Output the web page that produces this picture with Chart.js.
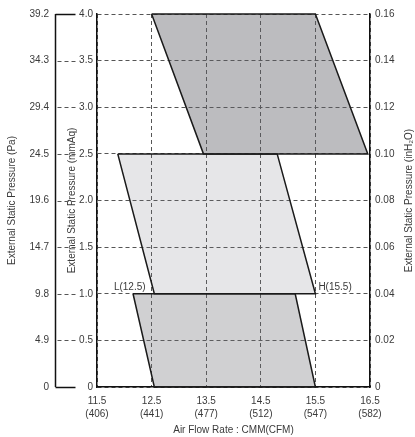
<!DOCTYPE html>
<html>
<head>
<meta charset="utf-8">
<script src="https://cdn.jsdelivr.net/npm/chart.js@4"></script>
<style>
html, body { margin: 0; padding: 0; background: #fff; }
#wrap { width: 415px; height: 437px; }
</style>
</head>
<body>
<div id="wrap"><canvas id="c"></canvas></div>
<script>
// ---- data ----
const cmmTicks = [11.5, 12.5, 13.5, 14.5, 15.5, 16.5];
const cmmLabels = ['11.5', '12.5', '13.5', '14.5', '15.5', '16.5'];
const cfmLabels = ['(406)', '(441)', '(477)', '(512)', '(547)', '(582)'];
const mmAqTicks = [0, 0.5, 1.0, 1.5, 2.0, 2.5, 3.0, 3.5, 4.0];
const mmAqLabels = ['0', '0.5', '1.0', '1.5', '2.0', '2.5', '3.0', '3.5', '4.0'];
const paTicks = [0, 4.9, 9.8, 14.7, 19.6, 24.5, 29.4, 34.3, 39.2];
const paLabels = ['0', '4.9', '9.8', '14.7', '19.6', '24.5', '29.4', '34.3', '39.2'];
const inH2OTicks = [0, 0.02, 0.04, 0.06, 0.08, 0.10, 0.12, 0.14, 0.16];
const inH2OLabels = ['0', '0.02', '0.04', '0.06', '0.08', '0.10', '0.12', '0.14', '0.16'];

// operating zones (x = CMM, y = mmAq), corners in order
const highZoneX = [12.5, 15.5, 16.46, 13.45];
const highZoneY = [4.0, 4.0, 2.5, 2.5];
const midZoneX = [11.88, 14.8, 15.5, 12.55];
const midZoneY = [2.5, 2.5, 1.0, 1.0];
const lowZoneX = [12.16, 15.13, 15.5, 12.55];
const lowZoneY = [1.0, 1.0, 0, 0];

const pointLabels = ['L(12.5)', 'H(15.5)'];
const pointLabelX = [12.5, 15.5];
const pointLabelY = [1.0, 1.0];

const titlePa = 'External Static Pressure (Pa)';
const titleMmAq = 'External Static Pressure (mmAq)';
const titleInH2O = 'External Static Pressure (inH\u2082O)';
const titleX = 'Air Flow Rate : CMM(CFM)';

// ---- styles ----
const FONT = '"Liberation Sans", Arial, Helvetica, sans-serif';
const TXT = '#3a3a3a';
const GRID = '#555555';
const AXIS = '#111111';
const DASH = [4, 3];
Chart.defaults.font.family = FONT;
Chart.defaults.font.size = 10;
Chart.defaults.color = TXT;

function zone(xs, ys, color) {
  const pts = xs.map((x, i) => ({ x: x, y: ys[i] }));
  pts.push({ x: xs[0], y: ys[0] });
  return {
    data: pts, showLine: true, fill: 'shape', backgroundColor: color,
    borderColor: '#1a1a1a', borderWidth: 1.5, pointRadius: 0, pointHoverRadius: 0,
    tension: 0, clip: false
  };
}

const paAxisPlugin = {
  id: 'paAxis',
  afterDraw(chart) {
    const s = chart.scales.yPa;
    const ctx = chart.ctx;
    const x0 = Math.round(s.right) + 0.5;
    ctx.save();
    ctx.strokeStyle = AXIS; ctx.lineWidth = 1.5;
    ctx.beginPath();
    ctx.moveTo(x0, s.getPixelForValue(paTicks[paTicks.length - 1]));
    ctx.lineTo(x0, s.getPixelForValue(paTicks[0]));
    ctx.stroke();
    paTicks.forEach((v, i) => {
      const py = Math.round(s.getPixelForValue(v)) + 0.5;
      const edge = (i === 0 || i === paTicks.length - 1);
      ctx.setLineDash(edge ? [] : DASH);
      ctx.lineWidth = edge ? 1.5 : 1;
      ctx.strokeStyle = edge ? AXIS : GRID;
      ctx.beginPath();
      ctx.moveTo(x0 + (edge ? 0 : 2), py);
      ctx.lineTo(x0 + 20, py);
      ctx.stroke();
    });
    ctx.restore();
  }
};

const annotPlugin = {
  id: 'annot',
  afterDatasetsDraw(chart) {
    const { ctx } = chart;
    const x = chart.scales.x, y = chart.scales.y;
    ctx.save();
    ctx.font = '10px ' + FONT;
    ctx.fillStyle = TXT;
    ctx.textBaseline = 'middle';
    pointLabels.forEach((t, i) => {
      const px = x.getPixelForValue(pointLabelX[i]);
      const py = y.getPixelForValue(pointLabelY[i]);
      ctx.textAlign = i === 0 ? 'right' : 'left';
      ctx.fillText(t, i === 0 ? px - 6 : px + 3, py - 7);
    });
    ctx.restore();
  }
};

const rightTitlePlugin = {
  id: 'rightTitle',
  afterDraw(chart) {
    const s = chart.scales.yR;
    const ctx = chart.ctx;
    const cy = (chart.chartArea.top + chart.chartArea.bottom) / 2;
    ctx.save();
    ctx.translate(s.right - 6, cy);
    ctx.rotate(-Math.PI / 2);
    ctx.font = '10px ' + FONT;
    ctx.fillStyle = TXT;
    ctx.textAlign = 'center';
    ctx.textBaseline = 'middle';
    ctx.fillText(titleInH2O, 0, 0);
    ctx.restore();
  }
};

new Chart(document.getElementById('c'), {
  type: 'scatter',
  data: {
    datasets: [
      zone(highZoneX, highZoneY, 'rgba(95,95,102,0.42)'),
      zone(midZoneX, midZoneY, 'rgba(120,120,130,0.185)'),
      zone(lowZoneX, lowZoneY, 'rgba(110,110,116,0.32)')
    ]
  },
  options: {
    responsive: true,
    maintainAspectRatio: false,
    animation: false,
    layout: { padding: { top: 14, right: 0, bottom: 0, left: 0 } },
    plugins: { legend: { display: false }, tooltip: { enabled: false } },
    scales: {
      x: {
        type: 'linear', position: 'bottom', min: 11.5, max: 16.5,
        afterBuildTicks: s => { s.ticks = cmmTicks.map(v => ({ value: v })); },
        ticks: {
          padding: 8, color: TXT, font: { size: 10, lineHeight: 1.3 },
          maxRotation: 0, autoSkip: false,
          callback: (v, i) => [cmmLabels[i], cfmLabels[i]]
        },
        grid: { color: GRID, lineWidth: 1, drawTicks: false },
        border: { display: true, color: AXIS, width: 1.5, dash: DASH },
        title: { display: true, text: titleX, color: TXT, font: { size: 10 }, padding: { top: 0, bottom: 1 } },
        afterFit: s => { s.height = 50; }
      },
      y: {
        type: 'linear', position: 'left', min: 0, max: 4, weight: 0,
        afterBuildTicks: s => { s.ticks = mmAqTicks.map(v => ({ value: v })); },
        ticks: { padding: 4, color: TXT, font: { size: 10 }, callback: (v, i) => mmAqLabels[i] },
        grid: { color: GRID, lineWidth: 1, drawTicks: false },
        border: { display: true, color: AXIS, width: 1.5, dash: DASH },
        title: { display: true, text: titleMmAq, color: TXT, font: { size: 10 }, padding: { top: 11, bottom: 0 } },
        afterFit: s => { s.width = 42; }
      },
      yPa: {
        type: 'linear', position: 'left', min: 0, max: 39.2, weight: 1,
        afterBuildTicks: s => { s.ticks = paTicks.map(v => ({ value: v })); },
        ticks: { padding: 6, color: TXT, font: { size: 10 }, callback: (v, i) => paLabels[i] },
        grid: { display: false, drawTicks: false, drawOnChartArea: false },
        border: { display: false },
        title: { display: true, text: titlePa, color: TXT, font: { size: 10 }, padding: { top: 6, bottom: 0 } },
        afterFit: s => { s.width = 55; }
      },
      yR: {
        type: 'linear', position: 'right', min: 0, max: 0.16,
        afterBuildTicks: s => { s.ticks = inH2OTicks.map(v => ({ value: v })); },
        ticks: { padding: 5, color: TXT, font: { size: 10 }, callback: (v, i) => inH2OLabels[i] },
        grid: { drawOnChartArea: false, drawTicks: false },
        border: { display: true, color: AXIS, width: 1.5 },
        afterFit: s => { s.width = 45; }
      }
    }
  },
  plugins: [paAxisPlugin, annotPlugin, rightTitlePlugin]
});
</script>
</body>
</html>
